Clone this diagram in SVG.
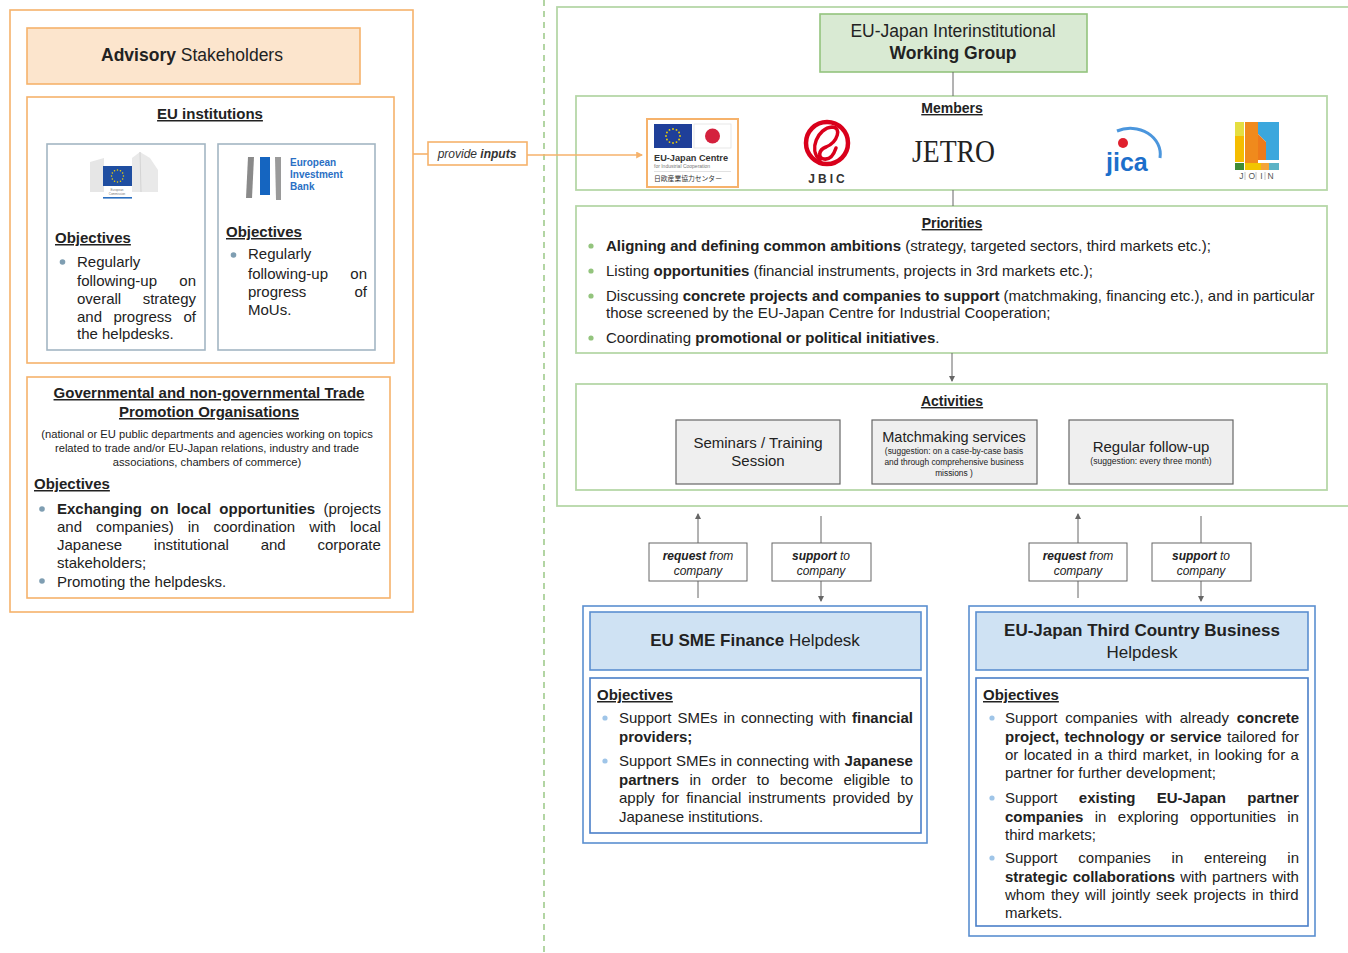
<svg xmlns="http://www.w3.org/2000/svg" width="1348" height="953" viewBox="0 0 1348 953">
<defs>
<style>
.t{font-family:"Liberation Sans",Arial,sans-serif;fill:#222}
.b{font-weight:bold}
.u{text-decoration:underline}
.i{font-style:italic}
.c{text-anchor:middle}
.e{text-anchor:end}
.f15{font-size:15px}
.f14{font-size:14px}
.pr{font-size:15px}
.orange{fill:none;stroke:#f6b26b;stroke-width:1.6}
.green{fill:none;stroke:#b6d7a8;stroke-width:1.8}
.blueo{fill:none;stroke:#5b8fd0;stroke-width:1.6}
.grayb{fill:#fff;stroke:#a3b6c3;stroke-width:1.6}
.act{fill:#efefef;stroke:#666;stroke-width:1.2}
.lbl{fill:#fff;stroke:#666;stroke-width:1}
.conn{stroke:#666;stroke-width:1;fill:none}
</style>
<marker id="ah" viewBox="0 0 6 6" refX="5" refY="3" markerWidth="6" markerHeight="6" markerUnits="userSpaceOnUse" orient="auto"><path d="M0,0 L6,3 L0,6 z" fill="#666"/></marker>
<marker id="aho" viewBox="0 0 6 6" refX="5" refY="3" markerWidth="7" markerHeight="7" markerUnits="userSpaceOnUse" orient="auto"><path d="M0,0 L6,3 L0,6 z" fill="#f6b26b"/></marker>
<g id="stars">
<circle cx="0" cy="-7" r="0.9"/><circle cx="3.5" cy="-6.06" r="0.9"/><circle cx="6.06" cy="-3.5" r="0.9"/><circle cx="7" cy="0" r="0.9"/><circle cx="6.06" cy="3.5" r="0.9"/><circle cx="3.5" cy="6.06" r="0.9"/><circle cx="0" cy="7" r="0.9"/><circle cx="-3.5" cy="6.06" r="0.9"/><circle cx="-6.06" cy="3.5" r="0.9"/><circle cx="-7" cy="0" r="0.9"/><circle cx="-6.06" cy="-3.5" r="0.9"/><circle cx="-3.5" cy="-6.06" r="0.9"/>
</g>
</defs>
<rect width="1348" height="953" fill="#fff"/>

<!-- divider -->
<line x1="544" y1="0" x2="544" y2="953" stroke="#93c47d" stroke-width="1.4" stroke-dasharray="6,5"/>

<!-- LEFT: Advisory stakeholders -->
<g id="advisory-frame">
<rect x="10" y="10" width="403" height="602" class="orange"/>
</g>
<g id="advisory-title">
<rect x="27" y="28" width="333" height="56" fill="#fce5cd" stroke="#f6b26b" stroke-width="1.6"/>
<text x="192" y="61" class="t c" font-size="17.5"><tspan class="b">Advisory</tspan> Stakeholders</text>
</g>

<g id="eu-institutions">
<rect x="27" y="97" width="367" height="266" class="orange"/>
<text x="210" y="119" class="t c b u f15">EU institutions</text>
</g>

<g id="european-commission">
<rect x="47" y="144" width="158" height="206" class="grayb"/>
<path d="M90 162 L104 158 L104 192 L90 192 Z" fill="#e6e6e6"/>
<path d="M132 158 L140 152 L150 158 L158 170 L158 192 L132 192 Z" fill="#e9e9e9"/>
<path d="M140 152 L141 192" stroke="#d4d4d4" stroke-width="1"/>
<rect x="103" y="166" width="29" height="20" fill="#1f4ea1"/>
<g fill="#f2d300" transform="translate(117.5,176) scale(0.85)"><use href="#stars"/></g>
<text x="117" y="191" class="t c" font-size="3" style="fill:#777">European</text>
<text x="117" y="195" class="t c" font-size="3" style="fill:#777">Commission</text>
<rect x="103" y="197" width="29" height="1.6" fill="#2b6fc0"/>
<text x="55" y="243" class="t b u f15">Objectives</text>
<circle cx="62.5" cy="262" r="2.8" fill="#7f9eb2"/>
<text class="t f15"><tspan x="77" y="267">Regularly</tspan><tspan x="77" y="286">following-up</tspan><tspan x="196" y="286" class="e">on</tspan><tspan x="77" y="304">overall</tspan><tspan x="196" y="304" class="e">strategy</tspan><tspan x="77" y="322">and</tspan><tspan x="113.5" y="322">progress</tspan><tspan x="196" y="322" class="e">of</tspan><tspan x="77" y="339">the helpdesks.</tspan></text>
</g>

<g id="eib">
<rect x="218" y="144" width="157" height="206" class="grayb"/>
<path d="M248 157 L254 157 L252 198 L246 198 Z" fill="#8a8a8a"/>
<rect x="260" y="157" width="10" height="38" fill="#1565c0"/>
<path d="M275 157 L281 157 L281 200 L276 200 Z" fill="#9a9a9a"/>
<text x="290" y="166" class="t b" font-size="10" style="fill:#2a6fc4">European</text>
<text x="290" y="178" class="t b" font-size="10" style="fill:#2a6fc4">Investment</text>
<text x="290" y="190" class="t b" font-size="10" style="fill:#2a6fc4">Bank</text>
<text x="226" y="237" class="t b u f15">Objectives</text>
<circle cx="233.5" cy="255" r="2.8" fill="#7f9eb2"/>
<text class="t f15"><tspan x="248" y="259">Regularly</tspan><tspan x="248" y="279">following-up</tspan><tspan x="367" y="279" class="e">on</tspan><tspan x="248" y="297">progress</tspan><tspan x="367" y="297" class="e">of</tspan><tspan x="248" y="315">MoUs.</tspan></text>
</g>

<g id="trade-promotion">
<rect x="27" y="377" width="363" height="221" class="orange"/>
<text x="209" y="398" class="t c b u f15">Governmental and non-governmental Trade</text>
<text x="209" y="417" class="t c b u f15">Promotion Organisations</text>
<text class="t c" font-size="11.2"><tspan x="207" y="438">(national or EU public departments and agencies working on topics</tspan><tspan x="207" y="452">related to trade and/or EU-Japan relations, industry and trade</tspan><tspan x="207" y="466">associations, chambers of commerce)</tspan></text>
<text x="34" y="489" class="t b u f15">Objectives</text>
<circle cx="42" cy="509" r="2.8" fill="#7f9eb2"/>
<circle cx="42" cy="581" r="2.8" fill="#7f9eb2"/>
<text x="57" y="514" class="t f15" word-spacing="4.1"><tspan class="b">Exchanging on local opportunities</tspan> (projects</text>
<text x="57" y="532" class="t f15" word-spacing="9.9">and companies) in coordination with local</text>
<text x="57" y="550" class="t f15" word-spacing="27.6">Japanese institutional and corporate</text>
<text x="57" y="568" class="t f15">stakeholders;</text>
<text x="57" y="587" class="t f15">Promoting the helpdesks.</text>
</g>

<!-- RIGHT: Working group area -->
<g id="working-group-frame">
<rect x="557" y="7" width="810" height="499" class="green"/>
</g>
<g id="working-group">
<rect x="820" y="14" width="267" height="58" fill="#d9ead3" stroke="#93c47d" stroke-width="1.6"/>
<text x="953" y="37" class="t c" font-size="17.5">EU-Japan Interinstitutional</text>
<text x="953" y="59" class="t c b" font-size="17.5">Working Group</text>
</g>

<g id="members">
<rect x="576" y="96" width="751" height="94" class="green"/>
<text x="952" y="113" class="t c b u f14">Members</text>
</g>

<g id="eu-japan-centre">
<rect x="647" y="119" width="91" height="68" fill="#fff" stroke="#f6b26b" stroke-width="2"/>
<rect x="654" y="124" width="38" height="24" fill="#1f3f99"/>
<g fill="#f2d300" transform="translate(673,136)"><use href="#stars"/></g>
<rect x="694" y="124" width="37" height="24" fill="#fff" stroke="#e2e2e2" stroke-width="0.8"/>
<circle cx="712.5" cy="136" r="7.5" fill="#d4213d"/>
<text x="654" y="161" class="t b" font-size="9.2" style="fill:#333">EU-Japan Centre</text>
<text x="654" y="168" class="t" font-size="5" style="fill:#777">for Industrial Cooperation</text>
<line x1="654" y1="171.5" x2="731" y2="171.5" stroke="#ccc" stroke-width="0.6"/>
<text x="654" y="181" font-family="'Noto Sans CJK JP',sans-serif" font-size="6.8" fill="#333">日欧産業協力センター</text>
</g>

<g id="jbic">
<circle cx="827" cy="143" r="21" fill="none" stroke="#d9001b" stroke-width="4.5"/>
<path d="M820 160 C808 150 818 128 832 127 C842 127 838 142 826 147 M826 147 C818 150 818 158 824 159 C830 160 834 154 836 148" fill="none" stroke="#d9001b" stroke-width="3.5" stroke-linecap="round"/>
<text x="828" y="183" class="t c b" font-size="12" letter-spacing="3" style="fill:#333">JBIC</text>
</g>

<g id="jetro">
<text x="912" y="162" font-family="'Liberation Serif',serif" font-size="32" textLength="83" lengthAdjust="spacingAndGlyphs" fill="#222">JETRO</text>
</g>

<g id="jica">
<path d="M1117 131 A30 26 0 0 1 1160 158" fill="none" stroke="#4b96dd" stroke-width="3"/>
<circle cx="1123" cy="143" r="5" fill="#e0202e"/>
<text x="1106" y="171" font-family="'Liberation Sans',Arial,sans-serif" font-weight="bold" font-size="25" fill="#1c6fcb">jica</text>
</g>

<g id="join">
<rect x="1235" y="122" width="9" height="40" fill="#f5bd00"/>
<rect x="1235" y="122" width="9" height="14" fill="#e5de40"/>
<rect x="1245" y="122" width="13" height="41" fill="#f08a1c"/>
<path d="M1258 122 L1279 122 L1279 160 L1266 160 L1266 142 L1258 134 Z" fill="#3ba7dd"/>
<path d="M1258 134 L1266 142 L1266 160 L1258 160 Z" fill="#ee7a1a"/>
<rect x="1235" y="163" width="9" height="7" fill="#3e8b35"/>
<rect x="1245" y="163" width="16" height="7" fill="#f2c500"/>
<rect x="1261" y="163" width="8" height="7" fill="#f4a43a"/>
<rect x="1269" y="163" width="10" height="7" fill="#5cb3c6"/>
<text x="1259" y="179" class="t c" font-size="8.5" letter-spacing="5" style="fill:#555">JOIN</text>
<path d="M1245 172 V180 M1256 172 V180 M1265 172 V180" stroke="#999" stroke-width="0.6"/>
</g>

<g id="priorities">
<rect x="576" y="206" width="751" height="147" class="green"/>
<text x="952" y="228" class="t c b u f14">Priorities</text>
<g fill="#93c47d"><circle cx="591" cy="246" r="2.6"/><circle cx="591" cy="271" r="2.6"/><circle cx="591" cy="296" r="2.6"/><circle cx="591" cy="338" r="2.6"/></g>
<text x="606" y="251" class="t pr"><tspan class="b">Aligning and defining common ambitions</tspan> (strategy, targeted sectors, third markets etc.);</text>
<text x="606" y="276" class="t pr">Listing <tspan class="b">opportunities</tspan> (financial instruments, projects in 3rd markets etc.);</text>
<text x="606" y="301" class="t pr">Discussing <tspan class="b">concrete projects and companies to support</tspan> (matchmaking, financing etc.), and in particular</text>
<text x="606" y="318" class="t pr">those screened by the EU-Japan Centre for Industrial Cooperation;</text>
<text x="606" y="343" class="t pr">Coordinating <tspan class="b">promotional or political initiatives</tspan>.</text>
</g>

<g id="activities">
<rect x="576" y="384" width="751" height="106" class="green"/>
<text x="952" y="406" class="t c b u f14">Activities</text>
</g>
<g id="seminars">
<rect x="676" y="420" width="164" height="64" class="act"/>
<text x="758" y="448" class="t c f15">Seminars / Training</text>
<text x="758" y="466" class="t c f15">Session</text>
</g>
<g id="matchmaking">
<rect x="872" y="420" width="165" height="64" class="act"/>
<text x="954" y="442" class="t c" font-size="14.5">Matchmaking services</text>
<text class="t c" font-size="8.4"><tspan x="954" y="453.5">(suggestion: on a case-by-case basis</tspan><tspan x="954" y="464.5">and through comprehensive business</tspan><tspan x="954" y="475.5">missions )</tspan></text>
</g>
<g id="follow-up">
<rect x="1069" y="420" width="164" height="64" class="act"/>
<text x="1151" y="452" class="t c f15">Regular follow-up</text>
<text x="1151" y="464" class="t c" font-size="8.6">(suggestion: every three month)</text>
</g>

<!-- connectors -->
<g id="connectors">
<line x1="413" y1="154" x2="428" y2="154" stroke="#f6b26b" stroke-width="1.6"/>
<line x1="527" y1="155" x2="642" y2="155" stroke="#f6b26b" stroke-width="1.6" marker-end="url(#aho)"/>
<line x1="953" y1="72" x2="953" y2="96" class="conn"/>
<line x1="953" y1="190" x2="953" y2="206" class="conn"/>
<line x1="952" y1="353" x2="952" y2="381" class="conn" marker-end="url(#ah)"/>
<line x1="698" y1="543" x2="698" y2="514" class="conn" marker-end="url(#ah)"/>
<line x1="698" y1="598" x2="698" y2="581" class="conn"/>
<line x1="821" y1="516" x2="821" y2="543" class="conn"/>
<line x1="821" y1="581" x2="821" y2="601" class="conn" marker-end="url(#ah)"/>
<line x1="1078" y1="543" x2="1078" y2="514" class="conn" marker-end="url(#ah)"/>
<line x1="1078" y1="598" x2="1078" y2="581" class="conn"/>
<line x1="1201" y1="516" x2="1201" y2="543" class="conn"/>
<line x1="1201" y1="581" x2="1201" y2="601" class="conn" marker-end="url(#ah)"/>
</g>

<g id="provide-inputs">
<rect x="428" y="142" width="99" height="23" fill="#fff" stroke="#f6b26b" stroke-width="1.6"/>
<text x="477" y="158" class="t c i" font-size="12" style="fill:#333">provide <tspan class="b">inputs</tspan></text>
</g>
<g id="request-1">
<rect x="649" y="543" width="98" height="38" class="lbl"/>
<text class="t c i" font-size="12"><tspan x="698" y="560"><tspan class="b">request</tspan> from</tspan><tspan x="698" y="575">company</tspan></text>
</g>
<g id="support-1">
<rect x="772" y="543" width="99" height="38" class="lbl"/>
<text class="t c i" font-size="12"><tspan x="821" y="560"><tspan class="b">support</tspan> to</tspan><tspan x="821" y="575">company</tspan></text>
</g>
<g id="request-2">
<rect x="1029" y="543" width="98" height="38" class="lbl"/>
<text class="t c i" font-size="12"><tspan x="1078" y="560"><tspan class="b">request</tspan> from</tspan><tspan x="1078" y="575">company</tspan></text>
</g>
<g id="support-2">
<rect x="1152" y="543" width="99" height="38" class="lbl"/>
<text class="t c i" font-size="12"><tspan x="1201" y="560"><tspan class="b">support</tspan> to</tspan><tspan x="1201" y="575">company</tspan></text>
</g>

<!-- EU SME Finance Helpdesk -->
<g id="eu-sme-helpdesk">
<rect x="583" y="606" width="344" height="237" class="blueo"/>
<rect x="590" y="612" width="331" height="58" fill="#cfe2f3" stroke="#5b8fd0" stroke-width="1.6"/>
<text x="755" y="646" class="t c" font-size="17"><tspan class="b">EU SME Finance</tspan> Helpdesk</text>
<rect x="590" y="678" width="331" height="155" fill="#fff" stroke="#4a7fc8" stroke-width="1.6"/>
<text x="597" y="700" class="t b u f15">Objectives</text>
<circle cx="605" cy="718" r="2.6" fill="#9fc5e8"/>
<circle cx="605" cy="761" r="2.6" fill="#9fc5e8"/>
<text x="619" y="723" class="t f15" word-spacing="1.75">Support SMEs in connecting with <tspan class="b">financial</tspan></text>
<text x="619" y="742" class="t f15 b">providers;</text>
<text x="619" y="766" class="t f15" word-spacing="0.25">Support SMEs in connecting with <tspan class="b">Japanese</tspan></text>
<text x="619" y="785" class="t f15" word-spacing="6.2"><tspan class="b">partners</tspan> in order to become eligible to</text>
<text x="619" y="803" class="t f15" word-spacing="2.75">apply for financial instruments provided by</text>
<text x="619" y="822" class="t f15">Japanese institutions.</text>
</g>

<!-- EU-Japan Third Country Business Helpdesk -->
<g id="third-country-helpdesk">
<rect x="969" y="606" width="346" height="330" class="blueo"/>
<rect x="976" y="612" width="332" height="58" fill="#cfe2f3" stroke="#5b8fd0" stroke-width="1.6"/>
<text x="1142" y="636" class="t c b" font-size="17">EU-Japan Third Country Business</text>
<text x="1142" y="658" class="t c" font-size="17">Helpdesk</text>
<rect x="976" y="678" width="332" height="248" fill="#fff" stroke="#4a7fc8" stroke-width="1.6"/>
<text x="983" y="700" class="t b u f15">Objectives</text>
<circle cx="992" cy="718" r="2.6" fill="#9fc5e8"/>
<circle cx="992" cy="798" r="2.6" fill="#9fc5e8"/>
<circle cx="992" cy="858" r="2.6" fill="#9fc5e8"/>
<text x="1005" y="723" class="t f15" word-spacing="3.5">Support companies with already <tspan class="b">concrete</tspan></text>
<text x="1005" y="742" class="t f15" word-spacing="1.1"><tspan class="b">project, technology or service</tspan> tailored for</text>
<text x="1005" y="760" class="t f15" word-spacing="1.15">or located in a third market, in looking for a</text>
<text x="1005" y="778" class="t f15">partner for further development;</text>
<text x="1005" y="803" class="t f15" word-spacing="17.1">Support <tspan class="b">existing EU-Japan partner</tspan></text>
<text x="1005" y="822" class="t f15" word-spacing="7.2"><tspan class="b">companies</tspan> in exploring opportunities in</text>
<text x="1005" y="840" class="t f15">third markets;</text>
<text x="1005" y="863" class="t f15" word-spacing="16.6">Support companies in entereing in</text>
<text x="1005" y="882" class="t f15" word-spacing="0.95"><tspan class="b">strategic collaborations</tspan> with partners with</text>
<text x="1005" y="900" class="t f15" word-spacing="1.7">whom they will jointly seek projects in third</text>
<text x="1005" y="918" class="t f15">markets.</text>
</g>
</svg>
